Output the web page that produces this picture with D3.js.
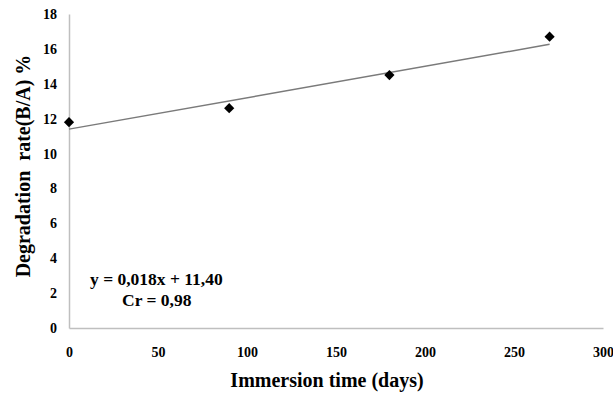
<!DOCTYPE html>
<html>
<head>
<meta charset="utf-8">
<script src="https://cdn.jsdelivr.net/npm/d3@7"></script>
<style>
  body { margin: 0; background: #fff; }
  text { font-family: "Liberation Serif", "Times New Roman", serif; font-weight: bold; }
</style>
</head>
<body>
<div id="chart"></div>
<script>
var svgWidth = 613;
var svgHeight = 394;

var margin = { top: 14, right: 10, bottom: 66, left: 69 };

// data
var days = [0, 90, 180, 270];
var rates = [11.8, 12.6, 14.5, 16.7];
var xTicks = [0, 50, 100, 150, 200, 250, 300];
var yTicks = [0, 2, 4, 6, 8, 10, 12, 14, 16, 18];
var slope = 0.018;
var intercept = 11.40;
var fitLabels = ["y = 0,018x + 11,40", "Cr = 0,98"];

var width = 603 - margin.left;
var height = 328 - margin.top;

var svg = d3.select("#chart")
  .append("svg")
  .attr("width", svgWidth)
  .attr("height", svgHeight);

var chartGroup = svg.append("g")
  .attr("transform", `translate(${margin.left}, ${margin.top})`);

var xScale = d3.scaleLinear().domain([0, 300]).range([0, width]);
var yScale = d3.scaleLinear().domain([0, 18]).range([height, 0]);

// axes, no tick marks
var xAxis = chartGroup.append("g")
  .attr("transform", `translate(0, ${height})`)
  .call(d3.axisBottom(xScale).tickValues(xTicks).tickSize(0).tickPadding(19));

var yAxis = chartGroup.append("g")
  .call(d3.axisLeft(yScale).tickValues(yTicks).tickSize(0).tickPadding(12));

[xAxis, yAxis].forEach(function(ax) {
  ax.select(".domain").attr("stroke", "#bfbfbf").attr("stroke-width", 1.5);
  ax.selectAll("text")
    .attr("fill", "#000")
    .style("font-size", "14px")
    .style("font-family", "'Liberation Serif', serif")
    .style("font-weight", "bold");
});

// trend line
var fitX = [0, 270];
chartGroup.append("path")
  .datum(fitX)
  .attr("fill", "none")
  .attr("stroke", "#7a7a7a")
  .attr("stroke-width", 1.5)
  .attr("d", d3.line()
    .x(d => xScale(d))
    .y(d => yScale(slope * d + intercept)));

// diamond markers
chartGroup.selectAll(".pt")
  .data(days)
  .enter()
  .append("path")
  .attr("class", "pt")
  .attr("d", d3.symbol().type(d3.symbolSquare).size(52))
  .attr("transform", (d, i) => `translate(${xScale(d)}, ${yScale(rates[i])}) rotate(45)`)
  .attr("fill", "#000");

// equation
chartGroup.append("text")
  .attr("x", 90 - margin.left)
  .attr("y", 285 - margin.top)
  .style("font-size", "17.5px")
  .text(fitLabels[0]);

chartGroup.append("text")
  .attr("x", 122 - margin.left)
  .attr("y", 306 - margin.top)
  .style("font-size", "17.5px")
  .text(fitLabels[1]);

// axis titles
svg.append("text")
  .attr("x", 327)
  .attr("y", 387)
  .attr("text-anchor", "middle")
  .style("font-size", "20px")
  .text("Immersion time (days)");

svg.append("text")
  .attr("transform", "rotate(-90)")
  .attr("x", -166)
  .attr("y", 30)
  .attr("text-anchor", "middle")
  .style("font-size", "20px")
  .style("white-space", "pre")
  .text("Degradation  rate(B/A) %");
</script>
</body>
</html>
